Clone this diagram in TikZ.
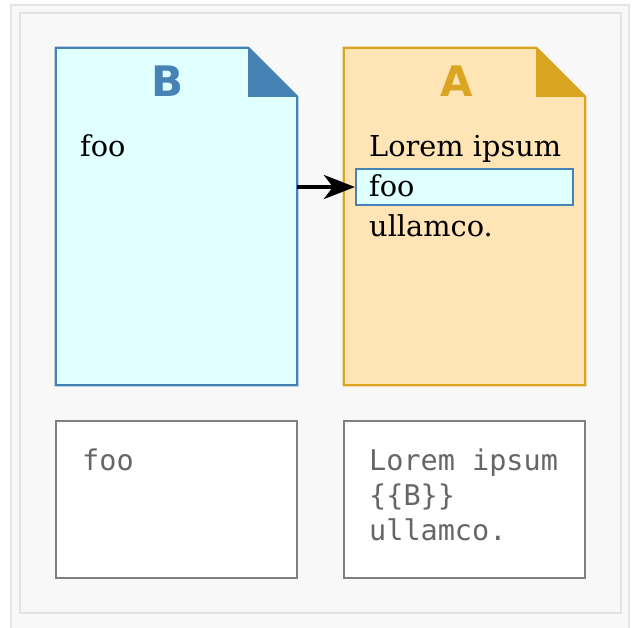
\documentclass[tikz,border=0pt]{standalone}
\usepackage{fontspec}
\setmainfont{DejaVu Serif}
\setsansfont{DejaVu Sans}
\setmonofont{DejaVu Sans Mono}
\usetikzlibrary{arrows.meta}
\definecolor{steel}{HTML}{4682B4}
\definecolor{lcyan}{HTML}{E0FFFF}
\definecolor{gold}{HTML}{DAA520}
\definecolor{mocc}{HTML}{FFE4B5}
\definecolor{framel}{HTML}{E3E3E3}
\definecolor{framef}{HTML}{F8F8F8}
\definecolor{codegray}{HTML}{666666}
\definecolor{boxgray}{HTML}{808080}
\tikzset{
  docbody/.style={rectangle, draw=none, minimum width=241pt, minimum height=337pt, inner sep=0pt},
  srctext/.style={anchor=base west, inner sep=0pt, font=\fontsize{28.8}{28.8}\selectfont},
  codetext/.style={anchor=base west, inner sep=0pt, text=codegray, font=\fontsize{28.5}{28.5}\ttfamily},
  titletext/.style={anchor=base, inner sep=0pt, font=\fontsize{42}{42}\sffamily\bfseries},
  codebox/.style={rectangle, draw=boxgray, fill=white, line width=2.2pt, minimum width=241pt, minimum height=157pt, inner sep=0pt},
  hlbox/.style={rectangle, draw=steel, fill=lcyan, line width=2.2pt, minimum width=217pt, minimum height=36pt, inner sep=0pt},
  linkarrow/.style={line width=4pt, -{Stealth[length=31pt,width=24pt,inset=9pt]}}
}
\begin{document}
\begin{tikzpicture}[x=1pt,y=-1pt]
\useasboundingbox (0,0) rectangle (635,628);
\fill[white] (0,0) rectangle (635,628);
% frames
\draw[framel, fill=framef, line width=2pt] (11,5) rectangle (629,640);
\draw[framel, fill=framef, line width=2pt] (20,13) rectangle (621,613);
% document B
\node[docbody] (B) at (176.5,216.5) {};
\draw[steel, fill=lcyan, line width=2.2pt, line join=miter]
  (B.north west) -- ([xshift=-49pt]B.north east) -- ([yshift=-49pt]B.north east) -- (B.south east) -- (B.south west) -- cycle;
\fill[steel] ([xshift=-49pt]B.north east) -- ([xshift=-49pt,yshift=-49pt]B.north east) -- ([yshift=-49pt]B.north east) -- cycle;
\draw[steel, line width=2.2pt] ([xshift=-49pt]B.north east) -- ([yshift=-49pt]B.north east);
\node[titletext, text=steel] (Btitle) at (168,97) {B};
\node[srctext] (Bfoo) at (80,157) {foo};
% document A
\node[docbody] (A) at (464.5,216.5) {};
\draw[gold, fill=mocc, line width=2.2pt, line join=miter]
  (A.north west) -- ([xshift=-49pt]A.north east) -- ([yshift=-49pt]A.north east) -- (A.south east) -- (A.south west) -- cycle;
\fill[gold] ([xshift=-49pt]A.north east) -- ([xshift=-49pt,yshift=-49pt]A.north east) -- ([yshift=-49pt]A.north east) -- cycle;
\draw[gold, line width=2.2pt] ([xshift=-49pt]A.north east) -- ([yshift=-49pt]A.north east);
\node[titletext, text=gold] (Atitle) at (457,97) {A};
\node[hlbox] (hl) at (464.5,187) {};
\node[srctext] (Alorem) at (369,157) {Lorem ipsum};
\node[srctext] (Afoo) at (369,197) {foo};
\node[srctext] (Aull) at (369,237) {ullamco.};
% arrow
\draw[linkarrow] (B.east |- hl.west) -- (hl.west);
% code boxes
\node[codebox] (cB) at (176.5,499.5) {};
\node[codebox] (cA) at (464.5,499.5) {};
\node[codetext] (cBfoo) at (82,470) {foo};
\node[codetext] (cAl1) at (369,470) {Lorem ipsum};
\node[codetext] (cAl2) at (369,505) {\{\{B\}\}};
\node[codetext] (cAl3) at (369,540) {ullamco.};
\end{tikzpicture}
\end{document}
